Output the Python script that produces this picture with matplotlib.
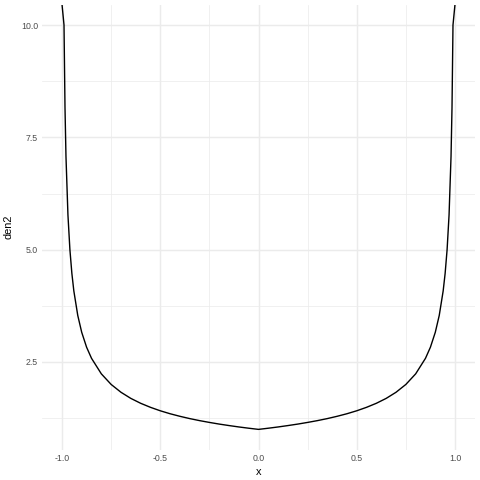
import matplotlib
matplotlib.use("Agg")
import matplotlib.pyplot as plt
from matplotlib.ticker import FixedLocator

plt.rcParams["font.family"] = ["Liberation Sans", "DejaVu Sans"]

# right half of the curve (mirrored for the left half); last point runs off the top edge
x_half = [0.0, 0.05, 0.1, 0.15, 0.2, 0.25, 0.3, 0.35, 0.4, 0.45, 0.5, 0.55, 0.6,
          0.65, 0.7, 0.75, 0.8, 0.85, 0.875, 0.9, 0.92, 0.94, 0.95, 0.96, 0.97,
          0.98, 0.985, 0.99, 1.0]
den2_half = [1.0, 1.026, 1.054, 1.085, 1.118, 1.155, 1.195, 1.240, 1.291, 1.348,
             1.414, 1.491, 1.581, 1.690, 1.826, 2.000, 2.236, 2.582, 2.828, 3.162,
             3.536, 4.082, 4.472, 5.000, 5.774, 7.071, 8.165, 10.0, 10.45]

x_vals = [-v for v in x_half[::-1]] + x_half[1:]
den2_vals = den2_half[::-1] + den2_half[1:]

x_ticks = [-1.0, -0.5, 0.0, 0.5, 1.0]
x_labels = ["-1.0", "-0.5", "0.0", "0.5", "1.0"]
y_ticks = [2.5, 5.0, 7.5, 10.0]
y_labels = ["2.5", "5.0", "7.5", "10.0"]

fig = plt.figure(figsize=(4.8, 4.8), dpi=100)
ax = fig.add_axes([42.4 / 480, 1 - 449.6 / 480, (474.6 - 42.4) / 480, (449.6 - 4.8) / 480])

ax.plot(x_vals, den2_vals, color="black", lw=1.0, zorder=3)
ax.set_xlim(-1.1, 1.1)
ax.set_ylim(0.55, 10.45)

ax.set_xticks(x_ticks)
ax.set_xticklabels(x_labels)
ax.set_yticks(y_ticks)
ax.set_yticklabels(y_labels)
ax.xaxis.set_minor_locator(FixedLocator([-0.75, -0.25, 0.25, 0.75]))
ax.yaxis.set_minor_locator(FixedLocator([1.25, 3.75, 6.25, 8.75]))

ax.grid(which="major", color="#EBEBEB", lw=1.02)
ax.grid(which="minor", color="#EBEBEB", lw=0.51)
ax.set_axisbelow(True)
for s in ax.spines.values():
    s.set_visible(False)
ax.tick_params(which="both", length=0)
ax.tick_params(axis="both", labelsize=6.34, labelcolor="#4D4D4D", pad=3.2)

ax.set_xlabel("x", fontsize=7.92, color="black", labelpad=3)
ax.set_ylabel("den2", fontsize=7.92, color="black", labelpad=5)

fig.savefig("out.png", dpi=100, facecolor="white")
